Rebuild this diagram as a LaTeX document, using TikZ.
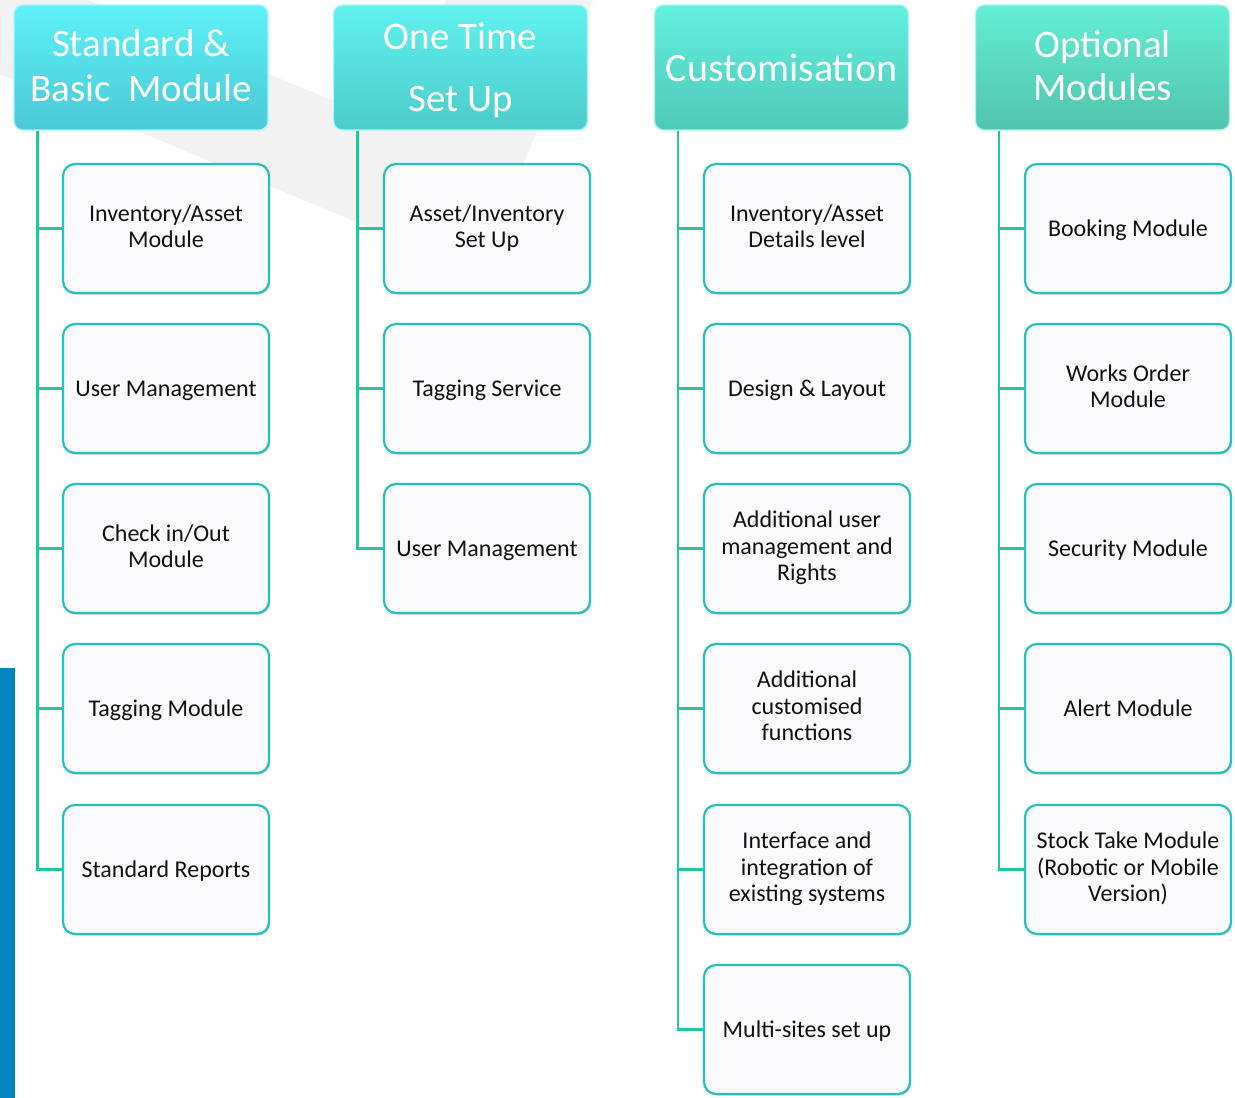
\documentclass[tikz,border=0pt]{standalone}
\usepackage{fontspec}
\setmainfont{Carlito}
\usetikzlibrary{shadows}
\definecolor{bggray}{HTML}{F2F2F2}
\definecolor{barblue}{HTML}{0386BE}
\definecolor{lineg}{HTML}{1EC99B}
\definecolor{boxedge}{HTML}{22C2BE}
\definecolor{boxfill}{HTML}{FBFAFD}
\definecolor{txt}{HTML}{111111}
\definecolor{hAt}{HTML}{5EF2F7}\definecolor{hAm}{HTML}{50D8E6}\definecolor{hAb}{HTML}{4AC8D6}
\definecolor{hBt}{HTML}{60F2EE}\definecolor{hBm}{HTML}{53DBD9}\definecolor{hBb}{HTML}{4CCBCA}
\definecolor{hCt}{HTML}{62F0E0}\definecolor{hCm}{HTML}{55D9C7}\definecolor{hCb}{HTML}{4EC9B8}
\definecolor{hDt}{HTML}{64EED6}\definecolor{hDm}{HTML}{57D4B8}\definecolor{hDb}{HTML}{50C4AA}
\newcommand\boxstrut{\rule[-5pt]{0pt}{26.5pt}}
\newcommand\shiftbox[2]{\raisebox{#1}[\height][\depth]{\begin{tabular}{@{}c@{}}#2\end{tabular}}}
\tikzset{
  headbox/.style={rounded corners=9pt, minimum width=254pt, minimum height=125pt,
    inner sep=0pt, align=center, text=white, draw=#1t!55!white, line width=1.3pt,
    top color=#1t, middle color=#1m, bottom color=#1b,
    font=\fontsize{39}{45}\selectfont},
  childbox/.style={rounded corners=12pt, minimum width=206pt, minimum height=129pt,
    inner sep=0pt, align=center, text=txt, draw=boxedge, line width=2.2pt, fill=boxfill,
    drop shadow={shadow xshift=1.2pt, shadow yshift=-1.5pt, opacity=0.3, fill=black!60},
    execute at begin node=\boxstrut, execute at end node=\boxstrut,
    font=\fontsize{24}{26.5}\selectfont},
  conn/.style={draw=lineg, line width=2.6pt}
}
\begin{document}
\begin{tikzpicture}[x=1pt,y=-1pt]
\useasboundingbox (0,0) rectangle (1235,1098);
% background watermark
\fill[bggray] (0,0) -- (88,0) -- (395,126) -- (446,0) -- (593,0) -- (477,272) -- (0,74) -- cycle;
\fill[barblue] (0,668) rectangle (15,1098);

% headers
\node[headbox=hA] (h1) at (141,67.5) {\shiftbox{-2pt}{Standard \&\\Basic\ \ Module}};
\node[headbox=hB, font=\fontsize{39}{62}\selectfont] (h2) at (460.5,67.5) {\shiftbox{-1pt}{One Time\\Set Up}};
\node[headbox=hC, font=\fontsize{40}{45}\selectfont] (h3) at (781.5,67.5) {Customisation};
\node[headbox=hD, font=\fontsize{39}{43}\selectfont] (h4) at (1102.5,67.5) {\shiftbox{-2.5pt}{Optional\\Modules}};

% column 1
\node[childbox] (a1) at (166,228.5) {Inventory/Asset\\Module};
\node[childbox] (a2) at (166,388.5) {User Management};
\node[childbox] (a3) at (166,548.5) {Check in/Out\\Module};
\node[childbox] (a4) at (166,708.5) {Tagging Module};
\node[childbox] (a5) at (166,869.5) {Standard Reports};
% column 2
\node[childbox] (b1) at (487,228.5) {Asset/Inventory\\Set Up};
\node[childbox] (b2) at (487,388.5) {Tagging Service};
\node[childbox] (b3) at (487,548.5) {User Management};
% column 3
\node[childbox] (c1) at (807,228.5) {Inventory/Asset\\Details level};
\node[childbox] (c2) at (807,388.5) {Design \& Layout};
\node[childbox] (c3) at (807,548.5) {Additional user\\management and\\Rights};
\node[childbox] (c4) at (807,708.5) {Additional\\customised\\functions};
\node[childbox] (c5) at (807,869.5) {Interface and\\integration of\\existing systems};
\node[childbox] (c6) at (807,1029.5) {Multi-sites set up};
% column 4
\node[childbox] (d1) at (1128,228.5) {Booking Module};
\node[childbox] (d2) at (1128,388.5) {Works Order\\Module};
\node[childbox] (d3) at (1128,548.5) {Security Module};
\node[childbox] (d4) at (1128,708.5) {Alert Module};
\node[childbox] (d5) at (1128,869.5) {Stock Take Module\\(Robotic or Mobile\\Version)};

% trunk start points
\coordinate (t1) at ([xshift=24pt]h1.south west);
\coordinate (t2) at ([xshift=24.5pt]h2.south west);
\coordinate (t3) at ([xshift=24pt]h3.south west);
\coordinate (t4) at ([xshift=24pt]h4.south west);

% connectors
\draw[conn] (t1) |- (a5.west);
\foreach \n in {a1,a2,a3,a4} \draw[conn] (t1 |- \n.west) -- (\n.west);
\draw[conn] (t2) |- (b3.west);
\foreach \n in {b1,b2} \draw[conn] (t2 |- \n.west) -- (\n.west);
\draw[conn] (t3) |- (c6.west);
\foreach \n in {c1,c2,c3,c4,c5} \draw[conn] (t3 |- \n.west) -- (\n.west);
\draw[conn] (t4) |- (d5.west);
\foreach \n in {d1,d2,d3,d4} \draw[conn] (t4 |- \n.west) -- (\n.west);
\end{tikzpicture}
\end{document}
